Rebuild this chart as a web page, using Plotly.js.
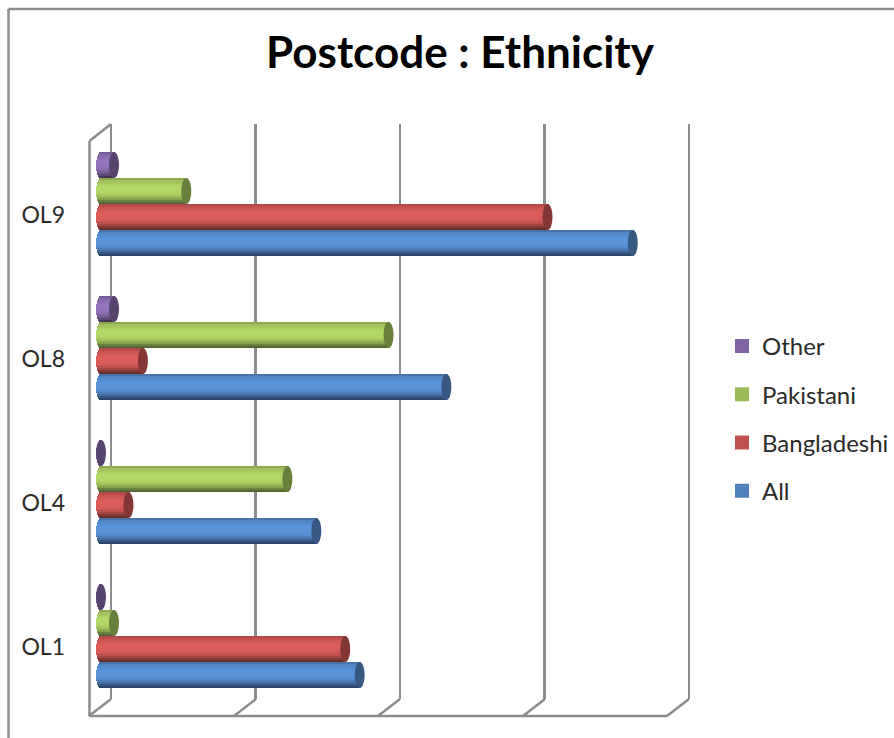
<!DOCTYPE html>
<html><head><meta charset="utf-8">
<script src="https://cdn.plot.ly/plotly-3.0.1.min.js"></script>
<style>html,body{margin:0;padding:0;background:#fff}#c{width:894px;height:738px}</style>
</head><body><div id="c"></div>
<script>
// ---- data (the chart has no value labels, gridline step = 10) ----
const categories = ["OL1", "OL4", "OL8", "OL9"];
const seriesNames = ["All", "Bangladeshi", "Pakistani", "Other"];
const allValues = [17.9, 14.9, 23.9, 36.8];
const bangladeshiValues = [16.9, 1.9, 2.9, 30.9];
const pakistaniValues = [0.9, 12.9, 19.9, 5.9];
const otherValues = [0, 0, 0.9, 0.9];
const seriesValues = [allValues, bangladeshiValues, pakistaniValues, otherValues];
const seriesColors = ["#4f81bd", "#c0504d", "#9bbb59", "#8064a2"];

// ---- styling ----
const W = 894, H = 738;
const pxPerUnit = 14.45, zeroPx = 101, capHalfPx = 5;
const px2x = p => (p - zeroPx) / pxPerUnit;
const px = p => p / W, py = p => 1 - p / H;
const gridColor = "#8c8c8c", font = "Lato, Carlito, 'Open Sans', sans-serif";
const shadeStops = [[0,.84],[.1,1.02],[.35,1.16],[.62,1.12],[.78,.92],[.9,.66],[1,.48]];
const shade = t => { for (let i=1;i<shadeStops.length;i++){ const a=shadeStops[i-1],b=shadeStops[i];
  if(t<=b[0]) return a[1]+(b[1]-a[1])*(t-a[0])/(b[0]-a[0]); } return 1; };
const tint = (hex,f) => { const n=parseInt(hex.slice(1),16);
  const c=[n>>16,(n>>8)&255,n&255].map(v=>Math.max(0,Math.min(255,Math.round(v*f))));
  return `rgb(${c})`; };
const barW = 26/144, strips = 13, stripW = barW/strips;
const groupIdx = categories.map((_,i)=>i);
const traces = [], shapes = [];

[3,2,1,0].forEach(s=>{
  const vals = seriesValues[s];
  const off = (s-1.5)*barW;
  traces.push({type:"bar",orientation:"h",name:seriesNames[s],legendgroup:seriesNames[s],
    y:groupIdx.map(i=>i+off),x:vals,width:barW-0.014,
    marker:{color:seriesColors[s],line:{width:2,color:seriesColors[s]}},hoverinfo:"x+name"});
  for(let k=0;k<strips;k++){
    const t=(k+.5)/strips, e=2*t-1;
    const base=-capHalfPx*Math.sqrt(1-e*e)/pxPerUnit;
    const centre=(0.5-(k+.5)/strips)*barW;
    const w=stripW+(k<strips-1?stripW*0.5:0);
    traces.push({type:"bar",orientation:"h",showlegend:false,legendgroup:seriesNames[s],hoverinfo:"skip",
      y:groupIdx.map(i=>i+off+centre-(w-stripW)/2),x:vals.map(v=>v-base),base:base,width:w,
      marker:{color:tint(seriesColors[s],shade(t)),line:{width:0}}});
  }
  vals.forEach((v,i)=>{
    shapes.push({type:"circle",xref:"x",yref:"y",layer:"above",
      x0:v-capHalfPx/pxPerUnit,x1:v+capHalfPx/pxPerUnit,
      y0:i+off-barW/2,y1:i+off+barW/2,
      fillcolor:tint(seriesColors[s],.68),line:{width:0}});
  });
});

// 3-D wall outline and chart frame
const line=(x0,y0,x1,y1)=>({type:"line",xref:"paper",yref:"paper",layer:"below",
  x0:px(x0),y0:py(y0),x1:px(x1),y1:py(y1),line:{color:gridColor,width:2.5}});
shapes.push(line(8.5,9,894,9),line(8.5,9,8.5,738));
shapes.push(line(89.5,141,111,124),line(89.5,141,89.5,716),line(89.5,716,667,716));
[111,256,400,545,689].forEach(x=>shapes.push(line(x,699,x-22,716)));

const layout={
  width:W,height:H,margin:{l:0,r:0,t:0,b:0},paper_bgcolor:"#fff",plot_bgcolor:"rgba(0,0,0,0)",
  barmode:"overlay",bargap:0,showlegend:true,
  title:{text:"<b>Postcode : Ethnicity</b>",font:{family:font,size:44,color:"#000"},
    xref:"paper",yref:"paper",x:460/W,xanchor:"center",y:py(53),yanchor:"middle"},
  xaxis:{domain:[px(89),px(692)],range:[px2x(89),px2x(692)],tick0:px2x(111),dtick:10,
    showgrid:true,gridcolor:gridColor,gridwidth:2.5,zeroline:false,showline:false,showticklabels:false,ticks:""},
  yaxis:{domain:[py(699),py(124)],range:[-63/144,512/144],tickmode:"array",tickvals:groupIdx,ticktext:categories,
    showgrid:false,zeroline:false,showline:false,ticks:"",ticklabelstandoff:23,ticklabelshift:11,
    tickfont:{family:font,size:23,color:"#2a2a2a"}},
  legend:{x:722/W,y:py(324),xanchor:"left",yanchor:"top",traceorder:"grouped",tracegroupgap:14,
    entrywidth:126,entrywidthmode:"pixels",
    font:{family:font,size:24,color:"#2a2a2a"},bgcolor:"rgba(0,0,0,0)",itemwidth:30},
  shapes:shapes
};
Plotly.newPlot("c",traces,layout,{displayModeBar:false,staticPlot:true});
</script></body></html>
